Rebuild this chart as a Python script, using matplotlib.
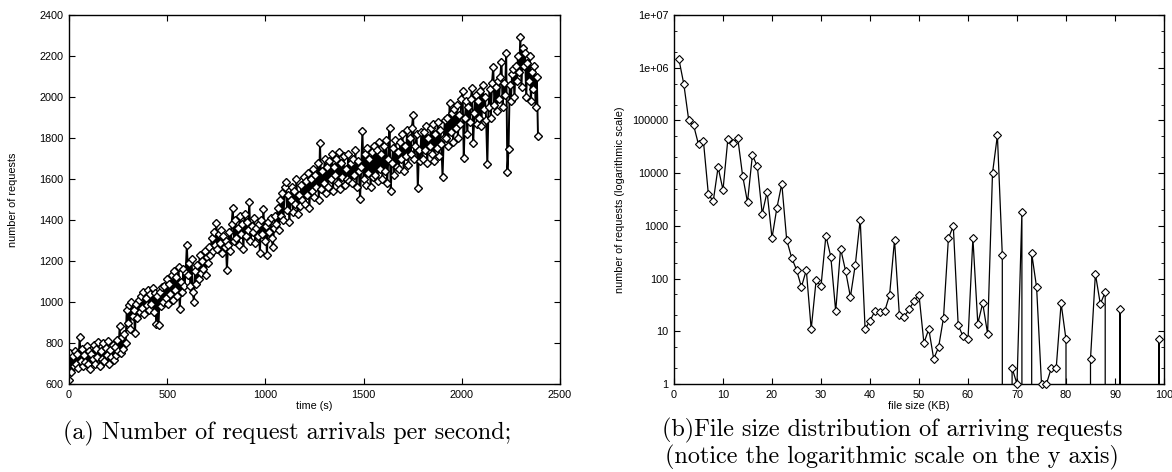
import numpy as np
import matplotlib
matplotlib.use("Agg")
import matplotlib.pyplot as plt
from matplotlib.ticker import FixedLocator, FixedFormatter, LogLocator, NullFormatter

# (a) request arrivals per second, one reading every 6 s
arrivals = [
    620, 750, 660, 735, 690, 760, 700, 745, 680, 831, 710, 770, 690, 740, 705, 785, 700, 760, 675, 745,
    720, 790, 700, 770, 730, 805, 690, 760, 720, 800, 710, 775, 740, 810, 700, 765, 730, 790, 715, 780,
    740, 815, 760, 883, 750, 830, 770, 845, 800, 960, 900, 985, 870, 1000, 930, 960, 850, 990, 920, 1010,
    950, 1030, 970, 1050, 940, 1020, 985, 1060, 960, 1040, 990, 1070, 950, 1045, 893, 1030, 890, 1050, 980, 1075,
    1000, 1080, 1020, 1110, 990, 1090, 1040, 1130, 1010, 1150, 1060, 1120, 1030, 1170, 964, 1100, 1050, 1160, 1080, 1140,
    1278, 1130, 1190, 1080, 1210, 1050, 1001, 1150, 1090, 1180, 1110, 1230, 1140, 1200, 1160, 1250, 1130, 1220, 1190, 1270,
    1230, 1310, 1250, 1340, 1280, 1384, 1260, 1330, 1290, 1350, 1240, 1320, 1270, 1300, 1156, 1280, 1340, 1250, 1380, 1457,
    1300, 1400, 1310, 1360, 1280, 1420, 1330, 1380, 1260, 1430, 1320, 1390, 1350, 1489, 1300, 1370, 1340, 1410, 1290, 1360,
    1320, 1380, 1240, 1400, 1330, 1455, 1300, 1370, 1230, 1390, 1340, 1410, 1310, 1270, 1360, 1420, 1380, 1460, 1350, 1500,
    1420, 1530, 1400, 1560, 1587, 1450, 1520, 1390, 1500, 1560, 1440, 1540, 1480, 1600, 1430, 1520, 1470, 1570, 1500, 1610,
    1480, 1590, 1520, 1630, 1460, 1600, 1540, 1650, 1510, 1620, 1560, 1680, 1500, 1774, 1550, 1640, 1580, 1700, 1530, 1660,
    1560, 1690, 1600, 1720, 1540, 1660, 1620, 1700, 1580, 1730, 1550, 1680, 1610, 1710, 1570, 1650, 1600, 1720, 1590, 1680,
    1580, 1700, 1620, 1740, 1560, 1690, 1640, 1502, 1660, 1834, 1600, 1720, 1570, 1750, 1630, 1700, 1560, 1730, 1610, 1760,
    1620, 1740, 1590, 1780, 1650, 1720, 1600, 1760, 1640, 1790, 1580, 1700, 1849, 1540, 1680, 1750, 1620, 1790, 1660, 1730,
    1650, 1780, 1700, 1820, 1640, 1760, 1710, 1840, 1670, 1800, 1720, 1850, 1912, 1700, 1760, 1820, 1556, 1740, 1690, 1830,
    1700, 1830, 1740, 1860, 1680, 1800, 1760, 1850, 1720, 1870, 1690, 1820, 1750, 1880, 1710, 1840, 1770, 1611, 1800, 1890,
    1800, 1900, 1760, 1970, 1830, 1920, 1780, 1940, 1850, 1960, 1800, 1910, 1870, 1990, 2027, 1702, 1900, 1980, 1820, 1950,
    1880, 1990, 2043, 1778, 1920, 2010, 1870, 1980, 1900, 2030, 1860, 2060, 1940, 2000, 1890, 1673, 1950, 2040, 1900, 2070,
    2148, 1960, 2050, 1930, 2080, 1990, 2100, 2172, 1950, 2070, 2010, 2213, 1635, 1747, 2060, 1980, 2110, 2137, 2000, 2150,
    2080, 2200, 2120, 2294, 2050, 2240, 2150, 2213, 2000, 2165, 2080, 2200, 1980, 2120, 2040, 2150, 1950, 2100, 1810,
]
sample_step = 6
time_s = np.arange(len(arrivals)) * sample_step

# (b) file size distribution
file_kb = list(range(1, 101))
requests = [
    1450000, 490000, 102000, 81000, 35000, 41000, 4100, 2900, 13000, 4800,
    45000, 37000, 47000, 9000, 2800, 22000, 13500, 1700, 4400, 590,
    2200, 6300, 540, 250, 147, 69, 145, 11, 92, 72,
    650, 260, 24, 370, 142, 45, 183, 1320, 11, 16,
    24, 23, 24, 49, 540, 20, 19, 26, 38, 49,
    6, 11, 3, 5, 18, 580, 990, 13, 8, 7,
    580, 14, 34, 9, 10000, 52000, 280, 0, 2, 1,
    1800, 0, 300, 68, 1, 1, 2, 2, 34, 7,
    0, 0, 0, 0, 3, 123, 33, 55, 0, 0,
    27, 0, 0, 0, 0, 0, 0, 0, 7, 0,
]

tick_font = dict(family="Liberation Sans", size=7.8)

fig = plt.figure(figsize=(11.72, 4.72), dpi=100)
ax1 = fig.add_axes([69 / 1172, 1 - 384 / 472, 491 / 1172, 369 / 472])
ax2 = fig.add_axes([674 / 1172, 1 - 384 / 472, 490 / 1172, 369 / 472])

ax1.plot(time_s, arrivals, color="black", lw=1.4, marker="D", markersize=4.2,
         mfc="white", mec="black", mew=1.0)
ax1.set_xlim(0, 2500)
ax1.set_ylim(600, 2400)
ax1.set_xticks(range(0, 2501, 500))
ax1.set_yticks(range(600, 2401, 200))
ax1.set_xlabel("time (s)", labelpad=1, **tick_font)
ax1.set_ylabel("number of requests", labelpad=15, **tick_font)

cnt = np.array(requests, dtype=float)
kb = np.array(file_kb)
ax2.set_yscale("log", nonpositive="clip")
ax2.plot(kb, cnt, color="black", lw=0.9)
pos = cnt > 0
ax2.plot(kb[pos], cnt[pos], ls="none", marker="D", markersize=3.6,
         mfc="white", mec="black", mew=0.8, clip_on=False, zorder=5)
ax2.set_xlim(0, 100)
ax2.set_ylim(1, 1e7)
ax2.set_xticks(range(0, 101, 10))
ylog = [1, 10, 100, 1000, 10000, 100000, 1e6, 1e7]
ax2.yaxis.set_major_locator(FixedLocator(ylog))
ax2.yaxis.set_major_formatter(FixedFormatter(["1", "10", "100", "1000", "10000", "100000", "1e+06", "1e+07"]))
ax2.yaxis.set_minor_locator(LogLocator(base=10, subs=(2.0, 5.0)))
ax2.yaxis.set_minor_formatter(NullFormatter())
ax2.set_xlabel("file size (KB)", labelpad=1, **tick_font)
ax2.set_ylabel("number of requests (logarithmic scale)", labelpad=5, **tick_font)

for ax in (ax1, ax2):
    for s in ax.spines.values():
        s.set_linewidth(1.0)
    ax.tick_params(which="major", direction="in", length=4, width=0.8,
                   top=True, right=True, pad=4)
    ax.tick_params(which="minor", direction="in", length=2, width=0.6,
                   top=False, right=True, left=True)
    for lab in ax.get_xticklabels() + ax.get_yticklabels():
        lab.set_fontfamily("Liberation Sans")
        lab.set_fontsize(7.8)

fig.text(63 / 1172, 1 - 433 / 472, "(a) Number of request arrivals per second;",
         family="cmr10", size=17.4, ha="left", va="center")
fig.text(892 / 1172, 1 - 444 / 472,
         "(b)File size distribution of arriving requests\n(notice the logarithmic scale on the y axis)",
         family="cmr10", size=17.4, ha="center", va="center", multialignment="center",
         linespacing=1.12)

fig.savefig("out.png", dpi=100)
